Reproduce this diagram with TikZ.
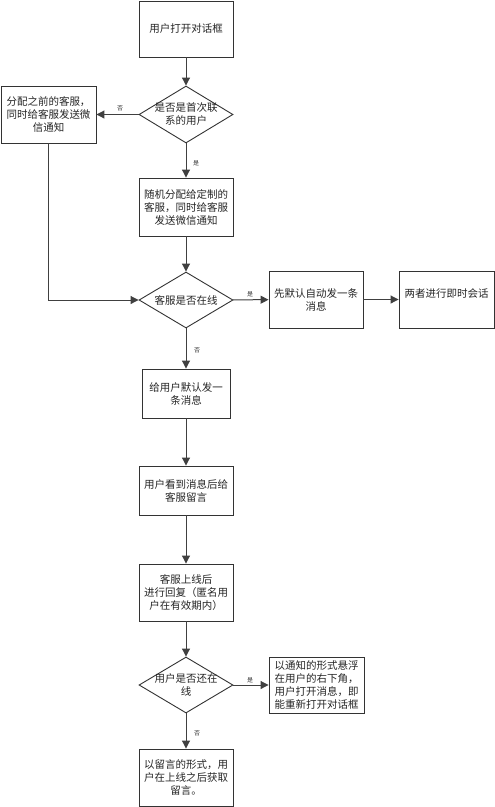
\documentclass[tikz,border=0pt]{standalone}
\usepackage{fontspec}
\setmainfont{Noto Sans CJK SC}
\usetikzlibrary{arrows.meta,shapes.geometric}
\tikzset{
  box/.style={draw=black!80, line width=0.9pt, rectangle, inner sep=0pt, fill=white},
  dia/.style={draw=black!80, line width=0.9pt, diamond, inner sep=0pt, minimum width=94pt, minimum height=56pt},
  txt/.style={font=\fontsize{10.5pt}{13pt}\selectfont, align=center, text=black!85, inner sep=0pt},
  arr/.style={draw=black!75, line width=1pt, -{Triangle[length=8pt,width=8pt]}},
  lbl/.style={font=\fontsize{6pt}{7pt}\selectfont, text=black!80, inner sep=0pt}
}
\begin{document}
\begin{tikzpicture}[x=1pt,y=-1pt]
\useasboundingbox (0,0) rectangle (495,807);
\fill[white] (0,0) rectangle (495,807);
% nodes
\node[box, minimum width=94pt, minimum height=56pt] (b1) at (186,29) {};
\node[txt] at (b1) {用户打开对话框};
\node[dia, minimum height=57pt] (d1) at (186,114.5) {};
\node[txt] at (d1) {是否是首次联\\系的用户};
\node[box, minimum width=95pt, minimum height=57pt] (lb) at (48.5,114.5) {};
\node[txt] at (lb) {分配之前的客服，\\同时给客服发送微\\信通知};
\node[box, minimum width=94pt, minimum height=58pt] (b2) at (186,207) {};
\node[txt] at (b2) {随机分配给定制的\\客服，同时给客服\\发送微信通知};
\node[dia] (d2) at (186,300) {};
\node[txt] at (d2) {客服是否在线};
\node[box, minimum width=94pt, minimum height=57pt] (b3) at (316,299.5) {};
\node[txt] at (b3) {先默认自动发一条\\消息};
\node[box, minimum width=95pt, minimum height=57pt] (b4) at (446.5,299.5) {};
\node[txt] at (446.5,294) {两者进行即时会话};
\node[box, minimum width=88pt, minimum height=49pt] (b5) at (186,393.5) {};
\node[txt] at (b5) {给用户默认发一\\条消息};
\node[box, minimum width=94pt, minimum height=49pt] (b6) at (186,490.5) {};
\node[txt] at (b6) {用户看到消息后给\\客服留言};
\node[box, minimum width=94pt, minimum height=57pt] (b7) at (186,592.5) {};
\node[txt] at (b7) {客服上线后\\进行回复（匿名用\\户在有效期内）};
\node[dia] (d3) at (186,685) {};
\node[txt] at (d3) {用户是否还在\\线};
\node[box, minimum width=95pt, minimum height=56pt] (b8) at (316.5,685) {};
\node[txt] at (b8) {以通知的形式悬浮\\在用户的右下角，\\用户打开消息，即\\能重新打开对话框};
\node[box, minimum width=94pt, minimum height=57pt] (b9) at (186,777.5) {};
\node[txt] at (b9) {以留言的形式，用\\户在上线之后获取\\留言。};
% connectors
\draw[arr] (b1) -- (d1);
\draw[arr] (d1) -- (lb);
\draw[arr] (d1) -- (b2);
\draw[arr] (b2) -- (d2);
\draw[arr] (lb.south) |- (d2.west);
\draw[arr] (d2) -- (b3);
\draw[arr] (b3) -- (b4);
\draw[arr] (d2) -- (b5);
\draw[arr] (b5) -- (b6);
\draw[arr] (b6) -- (b7);
\draw[arr] (b7) -- (d3);
\draw[arr] (d3) -- (b8);
\draw[arr] (d3) -- (b9);
% labels
\node[lbl] (l1) at (120,108) {否};
\node[lbl] (l2) at (196,163) {是};
\node[lbl] (l3) at (250,294) {是};
\node[lbl] (l4) at (197,350) {否};
\node[lbl] (l5) at (250,680) {是};
\node[lbl] (l6) at (197,733) {否};
\end{tikzpicture}
\end{document}
